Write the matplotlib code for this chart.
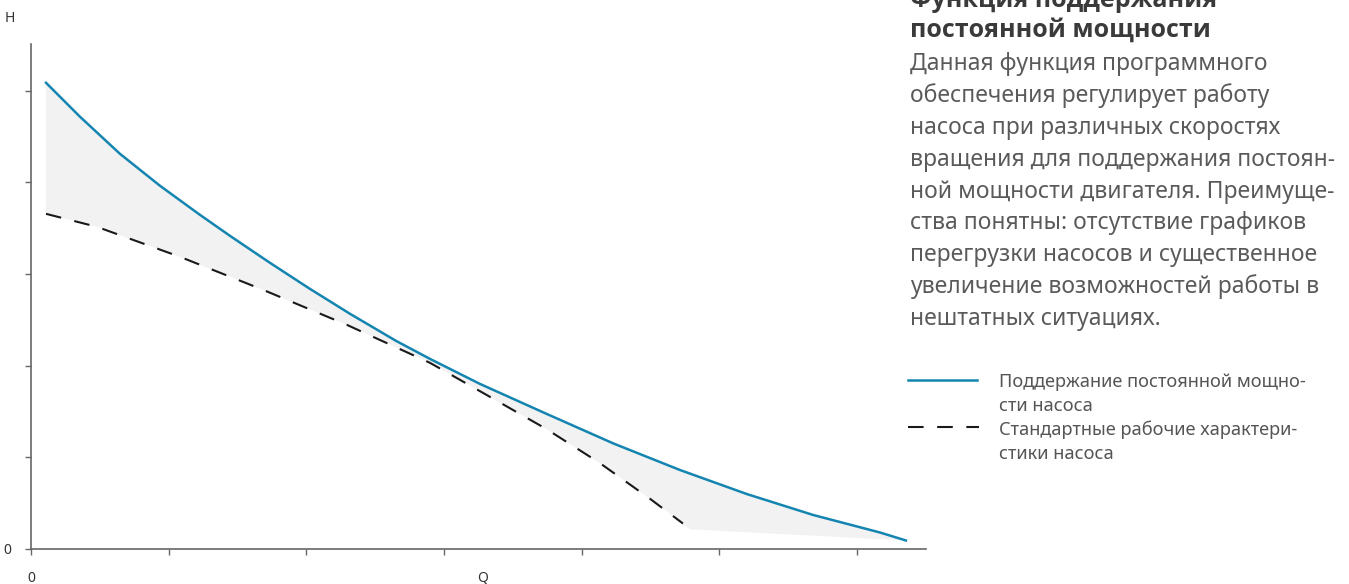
import matplotlib
matplotlib.use("Agg")
import matplotlib.pyplot as plt

plt.rcParams['font.family'] = ['Noto Sans', 'DejaVu Sans']

# кривая поддержания постоянной мощности (Q, H)
blue_q = [0.109, 0.356, 0.646, 0.937, 1.227, 1.445, 1.736, 2.026, 2.317, 2.651,
          2.898, 3.261, 3.745, 4.229, 4.713, 5.198, 5.681, 6.166, 6.354]
blue_h = [5.087, 4.716, 4.312, 3.963, 3.646, 3.417, 3.122, 2.838, 2.566, 2.271,
          2.074, 1.801, 1.474, 1.152, 0.862, 0.600, 0.371, 0.180, 0.093]

# стандартная характеристика
dash_q = [0.109, 0.479, 1.082, 1.685, 2.295, 2.898, 3.338, 3.742, 4.127, 4.500, 4.735]
dash_h = [3.657, 3.515, 3.188, 2.828, 2.445, 2.031, 1.656, 1.310, 0.942, 0.543, 0.278]

# угол заливки после конца пунктира
corner_q = [4.786]
corner_h = [0.215]

x_ticks = [0, 1, 2, 3, 4, 5, 6]
y_ticks = [0, 1, 2, 3, 4, 5]

title_lines = ["Функция поддержания", "постоянной мощности"]
body_lines = [
    "Данная функция программного",
    "обеспечения регулирует работу",
    "насоса при различных скоростях",
    "вращения для поддержания постоян-",
    "ной мощности двигателя. Преимуще-",
    "ства понятны: отсутствие графиков",
    "перегрузки насосов и существенное",
    "увеличение возможностей работы в",
    "нештатных ситуациях.",
]
legend_blue = ["Поддержание постоянной мощно-", "сти насоса"]
legend_dash = ["Стандартные рабочие характери-", "стики насоса"]

BLUE = "#1385b0"
W, H = 1349, 584

fig = plt.figure(figsize=(W / 100, H / 100), dpi=100)
ax = fig.add_axes([31 / W, 1 - 549 / H, (926 - 31) / W, (549 - 44) / H])

# серая заливка между кривыми
poly_q = blue_q + [blue_q[-1]] + corner_q + dash_q[::-1]
poly_h = blue_h + [blue_h[-1]] + corner_h + dash_h[::-1]
ax.fill(poly_q, poly_h, color="#f2f2f2", lw=0, zorder=1)

ax.plot(blue_q, blue_h, color=BLUE, lw=1.8, zorder=3)
ax.plot(dash_q, dash_h, color="#1a1a1a", lw=1.5, dashes=(7.5, 6.5), zorder=2)

ax.set_xlim(0, 6.5)
ax.set_ylim(0, 5.51)
for s in ["top", "right"]:
    ax.spines[s].set_visible(False)
for s in ["left", "bottom"]:
    ax.spines[s].set_color("#666666")
    ax.spines[s].set_linewidth(1.2)
ax.set_xticks(x_ticks)
ax.set_yticks(y_ticks)
ax.set_xticklabels(["0"] + [""] * 6)
ax.set_yticklabels(["0"] + [""] * 5)
ax.tick_params(axis="both", colors="#666666", length=4, width=1, labelcolor="#333333", labelsize=10)
ax.tick_params(axis="x", pad=12)
ax.tick_params(axis="y", pad=10)

fig.text(10 / W, 1 - 18 / H, "H", fontsize=10, color="#333333", va="center", ha="center")
fig.text(483 / W, 1 - 578 / H, "Q", fontsize=10, color="#333333", va="center", ha="center")

# текст справа
x0 = 910 / W
for i, line in enumerate(title_lines):
    fig.text(x0, 1 - (7 + 30 * i) / H, line, fontsize=18, fontweight="bold",
             family=["Open Sans", "Roboto", "DejaVu Sans"], color="#3a3a3a", va="baseline")
for i, line in enumerate(body_lines):
    fig.text(x0, 1 - (70 + 31.9 * i) / H, line, fontsize=16.5, color="#5a5a5a", va="baseline")

# легенда
ax_leg = fig.add_axes([0, 0, 1, 1], facecolor="none")
ax_leg.set_xlim(0, W)
ax_leg.set_ylim(H, 0)
ax_leg.axis("off")
ax_leg.plot([908, 977], [380, 380], color=BLUE, lw=1.8)
ax_leg.plot([908, 979], [427, 427], color="#1a1a1a", lw=1.5, dashes=(7.5, 6.5))
for i, line in enumerate(legend_blue):
    ax_leg.text(999, 387 + 24 * i, line, fontsize=13.1, color="#555555", va="baseline")
for i, line in enumerate(legend_dash):
    ax_leg.text(999, 435 + 24 * i, line, fontsize=13.1, color="#555555", va="baseline")

fig.savefig("out.png", dpi=100)
